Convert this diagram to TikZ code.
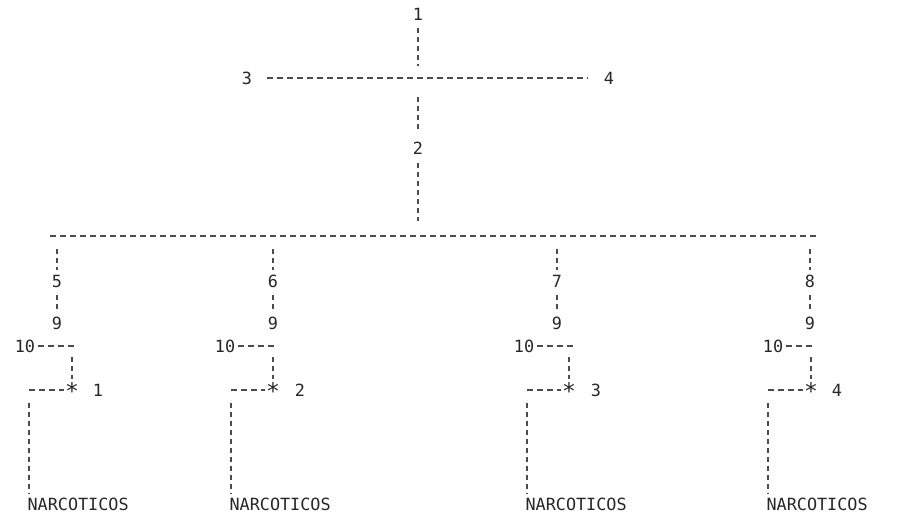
\documentclass[tikz,border=0pt]{standalone}
\usepackage{fontspec}
\setmonofont{DejaVu Sans Mono}

\begin{document}
\begin{tikzpicture}[x=1pt,y=-1pt,line width=1.1pt]
    \tikzstyle{digit}=[inner sep=2pt,font=\ttfamily\fontsize{16.8}{20}\selectfont,text=black!85]
    \tikzstyle{starmark}=[inner sep=1pt,font=\ttfamily\fontsize{23}{24}\selectfont,text=black!85]
    \tikzstyle{hdash}=[draw=black!70,dash pattern=on 6pt off 4pt]
    \tikzstyle{vdash}=[draw=black!70,dash pattern=on 5pt off 4pt]
    \useasboundingbox (0,0) rectangle (903,518);

    % top cross
    \node[digit] (n1) at (418,14) {1};
    \node[digit] (n3) at (247,78) {3};
    \node[digit] (n4) at (609,78) {4};
    \node[digit] (n2) at (418,148) {2};
    \coordinate (cross) at (418,78);
    \coordinate (hub) at (418,236);
    \coordinate (mainL) at (50,236);
    \coordinate (mainR) at (816,236);

    \draw[vdash,shorten <=5pt,shorten >=12pt] (n1) -- (cross);
    \draw[vdash,shorten <=19pt,shorten >=10pt] (cross) -- (n2);
    \draw[hdash,shorten <=12pt,shorten >=14pt] (n3) -- (n4);
    \draw[vdash,shorten <=6pt,shorten >=15pt] (n2) -- (hub);
    \draw[hdash] (mainL) -- (mainR);

    % the four branches
    \foreach \b/\top/\lab/\cx/\tenx/\lx/\numx in {1/57/5/72/25/29/98, 2/273/6/273/225/231/300, 3/557/7/569/524/527/596, 4/810/8/811/773/768/837}
    {
        \coordinate (t-\b) at (\top,236);
        \node[digit] (d-\b) at (\top,281) {\lab};
        \node[digit] (nine-\b) at (\top,323) {9};
        \node[digit] (ten-\b) at (\tenx,346) {10};
        \coordinate (k-\b) at (\cx,346);
        \node[starmark] (s-\b) at (\cx,391) {*};
        \node[digit] (m-\b) at (\numx,390) {\b};
        \coordinate (l-\b) at (\lx,390);
        \node[digit,anchor=north west,inner sep=0pt] (narc-\b) at (\lx-2,497) {NARCOTICOS};

        \draw[vdash,shorten <=13pt,shorten >=2pt] (t-\b) -- (d-\b);
        \draw[vdash,shorten <=5pt,shorten >=5pt] (d-\b) -- (nine-\b);
        \draw[hdash,shorten >=-4pt] (ten-\b) -- (k-\b);
        \draw[vdash,shorten <=11pt,shorten >=2pt] (k-\b) -- (s-\b);
        \draw[hdash] (l-\b) -- (l-\b -| s-\b.west);
        \draw[vdash,shorten <=13pt,shorten >=3pt] (l-\b) -- (l-\b |- narc-\b.north);
    }
\end{tikzpicture}
\end{document}
